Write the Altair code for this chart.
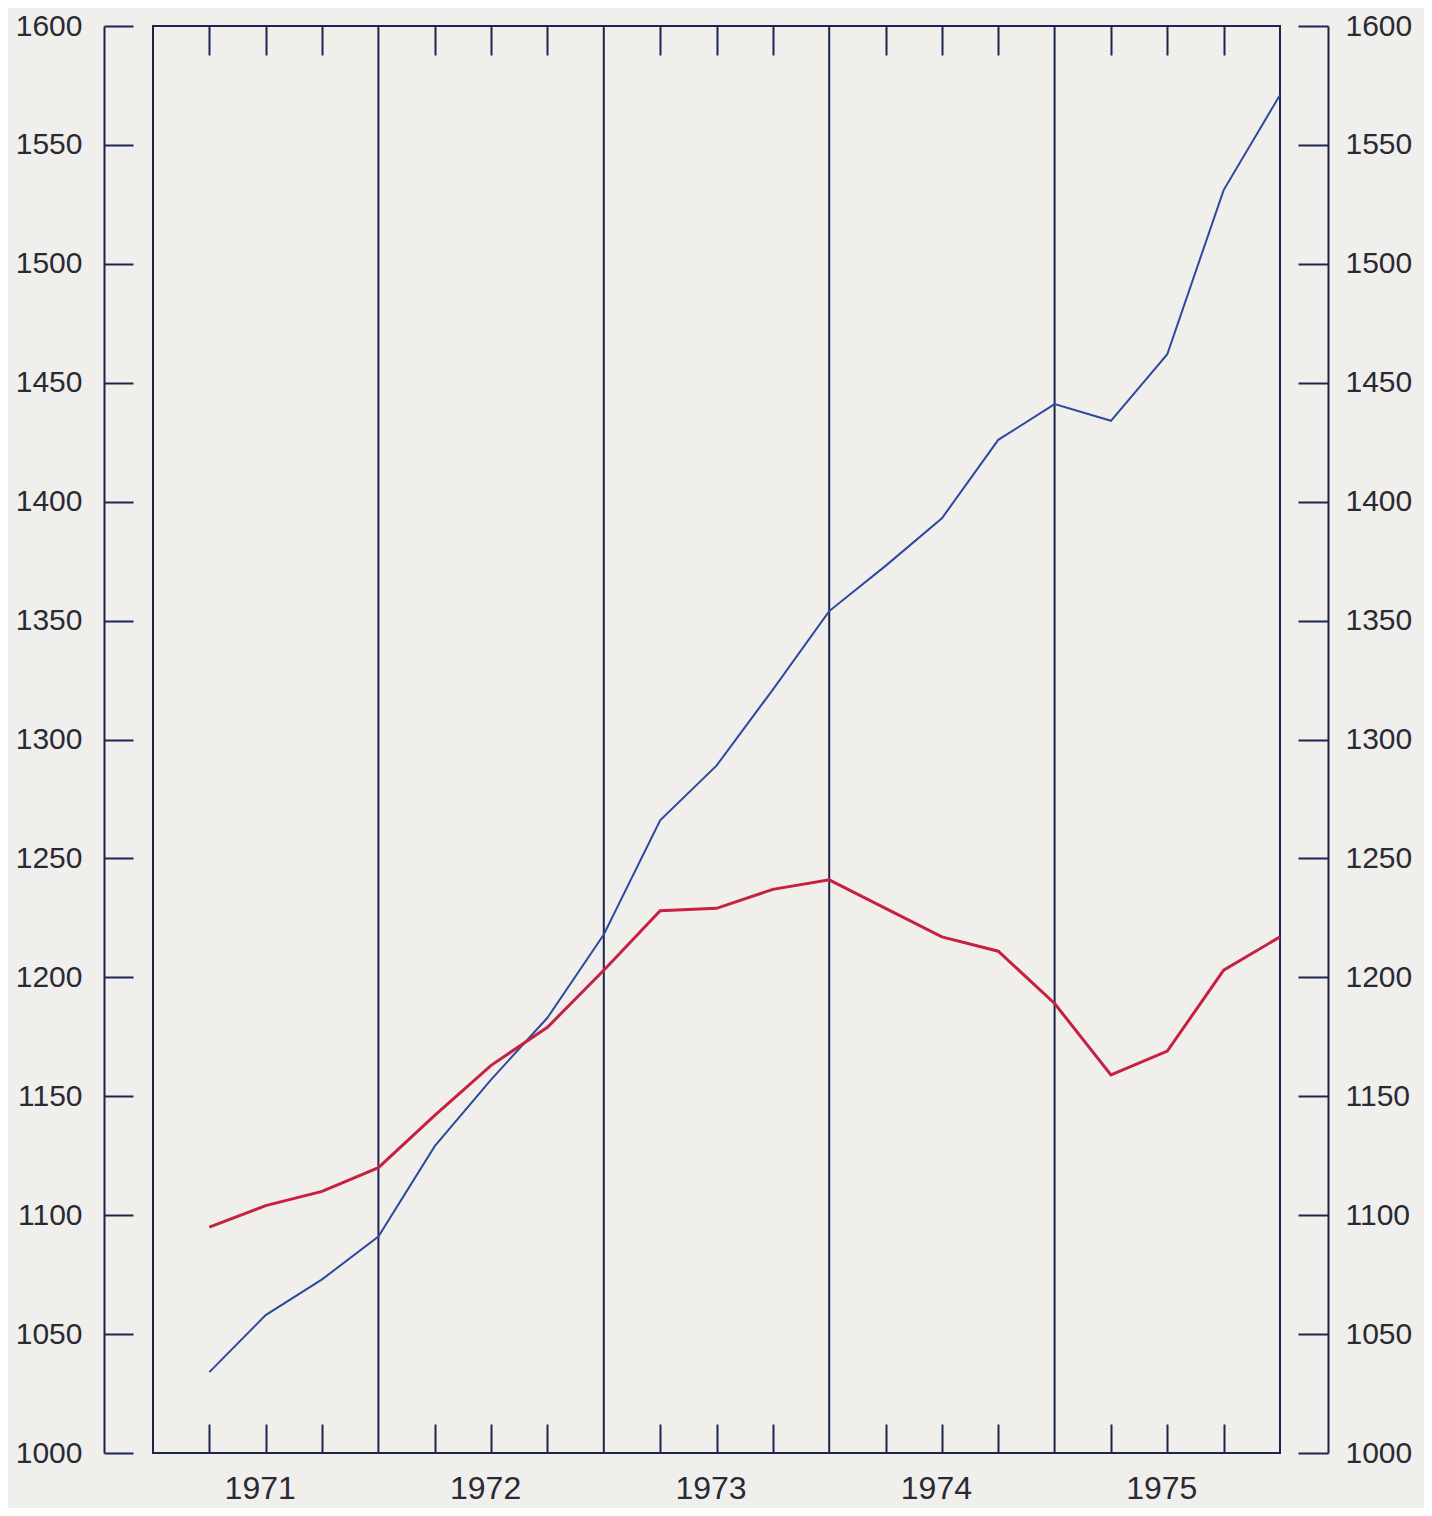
import altair as alt
import pandas as pd

# ---- data ----
years = [1971, 1972, 1973, 1974, 1975]
quarters = [1, 2, 3, 4]
blue_values = [1034, 1058, 1073, 1091,
               1129, 1157, 1183, 1218,
               1266, 1289, 1321, 1354,
               1373, 1393, 1426, 1441,
               1434, 1462, 1531, 1571]
red_values = [1095, 1104, 1110, 1120,
              1142, 1163, 1179, 1203,
              1228, 1229, 1237, 1241,
              1229, 1217, 1211, 1189,
              1159, 1169, 1203, 1217]
y_ticks = [1000, 1050, 1100, 1150, 1200, 1250, 1300, 1350,
           1400, 1450, 1500, 1550, 1600]
year_bounds = [1972, 1973, 1974, 1975]

# ---- tables ----
rows = []
i = 0
for y in years:
    for q in quarters:
        t = y + q / 4
        rows.append({"t": t, "value": blue_values[i], "series": "blue"})
        rows.append({"t": t, "value": red_values[i], "series": "red"})
        i += 1
df = pd.DataFrame(rows)
bounds_df = pd.DataFrame({"t": year_bounds})
quarter_ticks = [y + q / 4 for y in years for q in (1, 2, 3)]
year_centers = [y + 0.5 for y in years]

FRAME = "#1c2550"
BLUE = "#2f48a0"
RED = "#c62042"
TXT = "#2a2a35"
BG = "#f1efeb"
W, H = 1127, 1427

xs = alt.Scale(domain=[1971, 1976], nice=False, zero=False)
ys = alt.Scale(domain=[1000, 1600], nice=False, zero=False)

common_axis = dict(title=None, grid=False, tickColor=FRAME, tickWidth=2,
                   domainColor=FRAME, domainWidth=2,
                   labelFont="Liberation Sans", labelFontSize=30,
                   labelColor=TXT)
year_axis_style = {k: v for k, v in common_axis.items() if k != "labelFontSize"}

# year separator lines, with year labels on the bottom axis
rules = alt.Chart(bounds_df).mark_rule(color=FRAME, strokeWidth=2).encode(
    x=alt.X("t:Q", scale=xs,
            axis=alt.Axis(orient="bottom", values=year_centers, ticks=False,
                          domain=False, labelPadding=20, labelOffset=-6,
                          labelFontSize=32,
                          labelExpr="floor(datum.value)", **year_axis_style))
)

blue = alt.Chart(df).transform_filter(alt.datum.series == "blue").mark_line(
    color=BLUE, strokeWidth=2).encode(
    x=alt.X("t:Q", scale=xs,
            axis=alt.Axis(orient="bottom", offset=-29, tickSize=29,
                          values=quarter_ticks, domain=False, labels=False,
                          **common_axis)),
    y=alt.Y("value:Q", scale=ys,
            axis=alt.Axis(orient="left", offset=20, tickSize=29,
                          values=y_ticks, domain=False, labels=False,
                          **common_axis)),
)

red = alt.Chart(df).transform_filter(alt.datum.series == "red").mark_line(
    color=RED, strokeWidth=3).encode(
    x=alt.X("t:Q", scale=xs,
            axis=alt.Axis(orient="top", offset=-29, tickSize=29,
                          values=quarter_ticks, domain=False, labels=False,
                          **common_axis)),
    y=alt.Y("value:Q", scale=ys,
            axis=alt.Axis(orient="left", offset=49, ticks=False,
                          values=y_ticks, domain=True, labelPadding=22,
                          format="d", **common_axis)),
)

right_ticks = alt.Chart(df).transform_filter(alt.datum.series == "blue").mark_line(
    opacity=0).encode(
    x=alt.X("t:Q", scale=xs, axis=None),
    y=alt.Y("value:Q", scale=ys,
            axis=alt.Axis(orient="right", offset=18, tickSize=30,
                          values=y_ticks, domain=False, labels=False,
                          **common_axis)),
)

right_labels = alt.Chart(df).transform_filter(alt.datum.series == "blue").mark_line(
    opacity=0).encode(
    x=alt.X("t:Q", scale=xs, axis=None),
    y=alt.Y("value:Q", scale=ys,
            axis=alt.Axis(orient="right", offset=48, ticks=False,
                          values=y_ticks, domain=True, labelPadding=17,
                          format="d", **common_axis)),
)

chart = alt.layer(rules, blue, red, right_ticks, right_labels).resolve_scale(
    x="independent", y="independent"
).resolve_axis(
    x="independent", y="independent"
).properties(
    width=W, height=H,
    autosize=alt.AutoSizeParams(type="none"),
    padding={"left": 145, "top": 18, "right": 144, "bottom": 55},
    background=BG,
).configure_view(
    stroke=FRAME, strokeWidth=2
)

chart.save("out.html", embed_options={"renderer": "svg", "actions": False})
